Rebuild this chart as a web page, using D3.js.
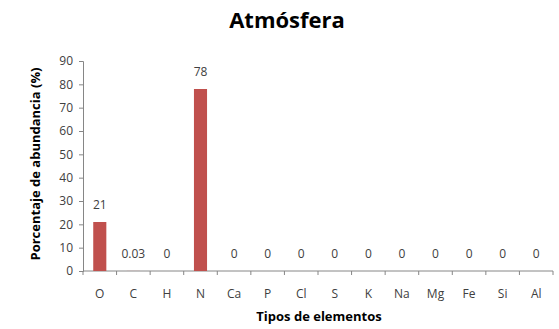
<!DOCTYPE html>
<html>
<head>
<meta charset="utf-8">
<script src="https://cdn.jsdelivr.net/npm/d3@7"></script>
<style>
  body { margin: 0; background: #fff; }
  svg text { font-family: "Open Sans", Lato, sans-serif; }
</style>
</head>
<body>
<div id="chart"></div>
<script>
var elements = ["O", "C", "H", "N", "Ca", "P", "Cl", "S", "K", "Na", "Mg", "Fe", "Si", "Al"];
var abundance = [21, 0.03, 0, 78, 0, 0, 0, 0, 0, 0, 0, 0, 0, 0];
var valueLabels = ["21", "0.03", "0", "78", "0", "0", "0", "0", "0", "0", "0", "0", "0", "0"];
var yTicks = [0, 10, 20, 30, 40, 50, 60, 70, 80, 90];

var width = 559, height = 329;
var margin = { top: 61, right: 6, bottom: 58, left: 83 };
var w = width - margin.left - margin.right,
    h = height - margin.top - margin.bottom;

var svg = d3.select("#chart").append("svg")
    .attr("width", width)
    .attr("height", height);

var g = svg.append("g")
    .attr("transform", "translate(" + margin.left + "," + margin.top + ")");

var x = d3.scaleBand()
    .domain(elements)
    .range([0, w])
    .paddingInner(0.61)
    .paddingOuter(0.305);

var xTick = d3.scaleBand().domain(elements).range([0, w]);

var y = d3.scaleLinear()
    .domain([0, 90])
    .range([h, 0]);

// y axis
var yAxis = g.append("g")
    .call(d3.axisLeft(y).tickValues(yTicks).tickSize(4).tickPadding(6));
yAxis.select(".domain").attr("stroke", "#868686");
yAxis.selectAll(".tick line").attr("stroke", "#868686");
yAxis.selectAll("text").attr("fill", "#404040")
    .style("font-family", "'Open Sans', sans-serif")
    .style("font-size", "12px");

// x axis: ticks between categories
var xAxis = g.append("g")
    .attr("transform", "translate(0," + h + ")");
xAxis.append("line")
    .attr("x1", 0).attr("x2", w)
    .attr("stroke", "#868686");
xAxis.selectAll(".xtick")
    .data(elements.concat(["end"]))
    .enter().append("line")
    .attr("x1", function (d, i) { return i * xTick.step(); })
    .attr("x2", function (d, i) { return i * xTick.step(); })
    .attr("y1", 0).attr("y2", 4)
    .attr("stroke", "#868686");
xAxis.selectAll(".xlabel")
    .data(elements)
    .enter().append("text")
    .attr("x", function (d) { return xTick(d) + xTick.bandwidth() / 2; })
    .attr("y", 27)
    .attr("text-anchor", "middle")
    .attr("fill", "#404040")
    .style("font-size", "12px")
    .text(function (d) { return d; });

// bars
g.selectAll(".bar")
    .data(abundance)
    .enter().append("rect")
    .attr("class", "bar")
    .attr("x", function (d, i) { return x(elements[i]); })
    .attr("y", function (d) { return y(d); })
    .attr("width", x.bandwidth())
    .attr("height", function (d) { return h - y(d); })
    .attr("fill", "#C0504D");

// value labels
g.selectAll(".val")
    .data(abundance)
    .enter().append("text")
    .attr("x", function (d, i) { return xTick(elements[i]) + xTick.bandwidth() / 2; })
    .attr("y", function (d) { return y(d) - 13; })
    .attr("text-anchor", "middle")
    .attr("fill", "#404040")
    .style("font-size", "12px")
    .text(function (d, i) { return valueLabels[i]; });

// title
svg.append("text")
    .attr("x", 287)
    .attr("y", 28)
    .attr("text-anchor", "middle")
    .attr("fill", "#000")
    .style("font-size", "22px")
    .style("font-weight", "bold")
    .text("Atmósfera");

// axis titles
svg.append("text")
    .attr("transform", "translate(40,164) rotate(-90)")
    .attr("text-anchor", "middle")
    .attr("fill", "#000")
    .style("font-size", "13px")
    .style("font-weight", "bold")
    .text("Porcentaje de abundancia (%)");

svg.append("text")
    .attr("x", 319)
    .attr("y", 321)
    .attr("text-anchor", "middle")
    .attr("fill", "#000")
    .style("font-size", "13px")
    .style("font-weight", "bold")
    .text("Tipos de elementos");
</script>
</body>
</html>
